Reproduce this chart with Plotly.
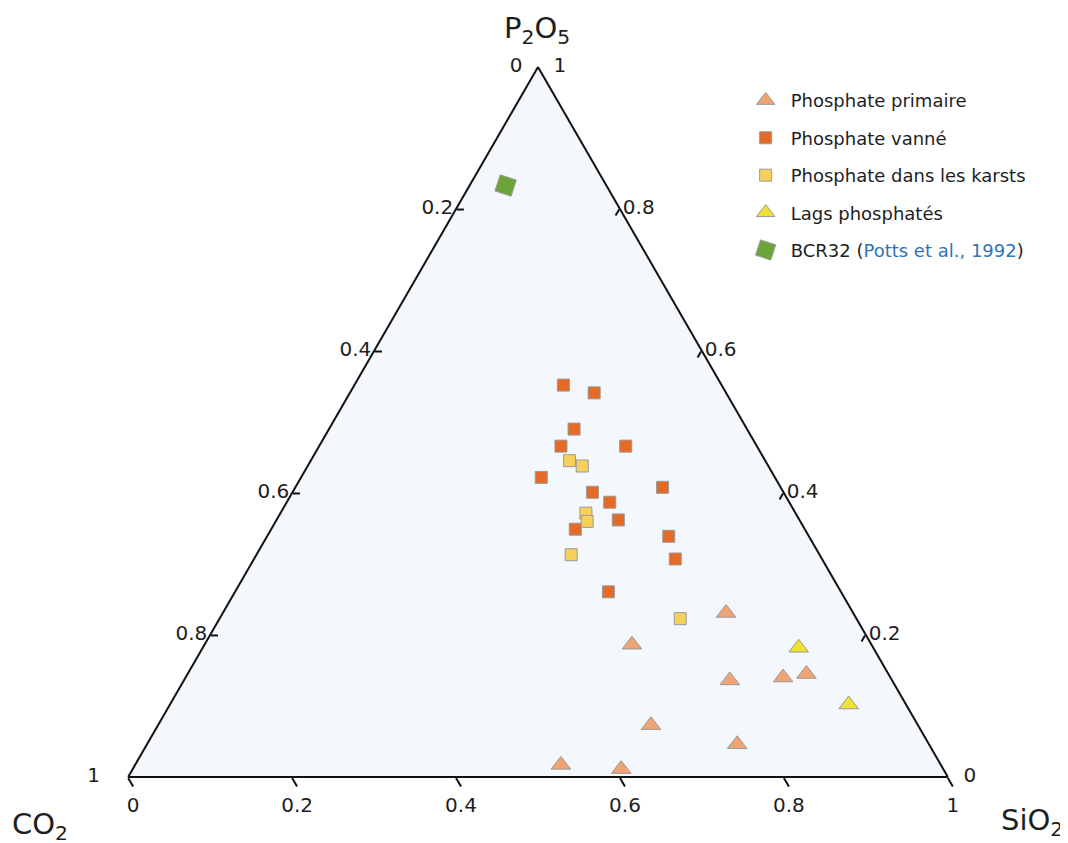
import plotly.graph_objects as go

# ---- data (P2O5, CO2, SiO2 fractions) ----
prim_p2o5 = [0.231, 0.186, 0.136, 0.140, 0.145, 0.073, 0.046, 0.017, 0.011]
prim_co2 = [0.155, 0.292, 0.198, 0.131, 0.100, 0.326, 0.234, 0.464, 0.393]
prim_sio2 = [0.614, 0.521, 0.666, 0.729, 0.755, 0.602, 0.720, 0.520, 0.596]

vanne_p2o5 = [0.552, 0.541, 0.490, 0.466, 0.466, 0.422, 0.408, 0.401, 0.387, 0.362, 0.349, 0.339, 0.307, 0.261]
vanne_co2 = [0.193, 0.161, 0.211, 0.239, 0.160, 0.285, 0.144, 0.233, 0.219, 0.221, 0.280, 0.171, 0.179, 0.284]
vanne_sio2 = [0.255, 0.298, 0.299, 0.295, 0.374, 0.293, 0.448, 0.366, 0.394, 0.417, 0.371, 0.490, 0.514, 0.456]

karst_p2o5 = [0.446, 0.438, 0.372, 0.360, 0.313, 0.223]
karst_co2 = [0.239, 0.227, 0.256, 0.260, 0.303, 0.215]
karst_sio2 = [0.316, 0.335, 0.373, 0.380, 0.384, 0.562]

lags_p2o5 = [0.182, 0.102]
lags_co2 = [0.091, 0.070]
lags_sio2 = [0.727, 0.828]

bcr_p2o5 = [0.834]
bcr_co2 = [0.123]
bcr_sio2 = [0.044]

tick_values = [0, 0.2, 0.4, 0.6, 0.8, 1.0]
tick_labels = ["1", "0.8", "0.6", "0.4", "0.2", "0"]

axis_titles = ["P<sub>2</sub>O<sub>5</sub>", "CO<sub>2</sub>", "SiO<sub>2</sub>"]

FONT = "DejaVu Sans"
TXT = "#1e1e1e"
EDGE = "#9a9a9a"
NB = "\u00a0"

# corner labels spaced away from the vertices (typographic padding only)
a_ticktext = list(tick_labels)
a_ticktext[0] = tick_labels[0] + NB * 4
a_ticktext[-1] = tick_labels[-1] + NB * 2
b_ticktext = list(tick_labels)
c_ticktext = list(tick_labels)
c_ticktext[0] = NB * 2 + tick_labels[0]
c_ticktext[-1] = NB * 2 + tick_labels[-1]

fig = go.Figure()


def add(name, a, b, c, symbol, color, size, group, angle=0):
    fig.add_trace(go.Scatterternary(
        a=a, b=b, c=c, mode="markers", name=name, legendgroup=group,
        marker=dict(symbol=symbol, color=color, size=size, angle=angle,
                    line=dict(color=EDGE, width=1)),
        cliponaxis=False,
    ))


add("Phosphate primaire", prim_p2o5, prim_co2, prim_sio2, "triangle-up", "#F0A373", 17, "g1")
add("Phosphate vanné", vanne_p2o5, vanne_co2, vanne_sio2, "square", "#E46A25", 12, "g2")
add("Phosphate dans les karsts", karst_p2o5, karst_co2, karst_sio2, "square", "#F6D05C", 12, "g3")
add("Lags phosphatés", lags_p2o5, lags_co2, lags_sio2, "triangle-up", "#EEE232", 17, "g4")
add('BCR32 (<span style="color:#2F74B5">Potts et al., 1992</span>)', bcr_p2o5, bcr_co2, bcr_sio2,
    "square", "#6DA33B", 17, "g5", angle=18)


def axis(ticktext, ticks, ticklen):
    return dict(
        title=dict(text=""),
        tickmode="array", tickvals=tick_values, ticktext=ticktext,
        ticks=ticks, ticklen=ticklen, tickwidth=2, tickcolor="#111111",
        showgrid=False, showline=True, linecolor="#111111", linewidth=2,
        tickfont=dict(family=FONT, size=20, color=TXT),
        min=0,
    )


title_font = dict(family=FONT, size=29, color=TXT)

fig.update_layout(
    width=1068, height=843,
    margin=dict(l=0, r=0, t=0, b=0),
    paper_bgcolor="white",
    showlegend=True,
    ternary=dict(
        domain=dict(x=[0.1125, 0.8800], y=[0.0878, 0.9300]),
        bgcolor="#F4F7FB",
        sum=1,
        aaxis=axis(a_ticktext, "inside", 7),
        baxis=axis(b_ticktext, "outside", 10),
        caxis=axis(c_ticktext, "inside", 7),
    ),
    legend=dict(
        x=0.686, y=0.912, xanchor="left", yanchor="top",
        font=dict(family=FONT, size=18, color=TXT),
        bgcolor="rgba(0,0,0,0)", traceorder="grouped", tracegroupgap=11,
        itemwidth=40,
    ),
    annotations=[
        dict(text=axis_titles[0], x=0.4953, y=0.9739, xref="paper", yref="paper",
             xanchor="center", yanchor="middle", showarrow=False, font=title_font),
        dict(text=axis_titles[1], x=0.0300, y=0.0297, xref="paper", yref="paper",
             xanchor="center", yanchor="middle", showarrow=False, font=title_font),
        dict(text=axis_titles[2], x=0.9588, y=0.0344, xref="paper", yref="paper",
             xanchor="center", yanchor="middle", showarrow=False, font=title_font),
    ],
)

fig.write_html("out.html")
